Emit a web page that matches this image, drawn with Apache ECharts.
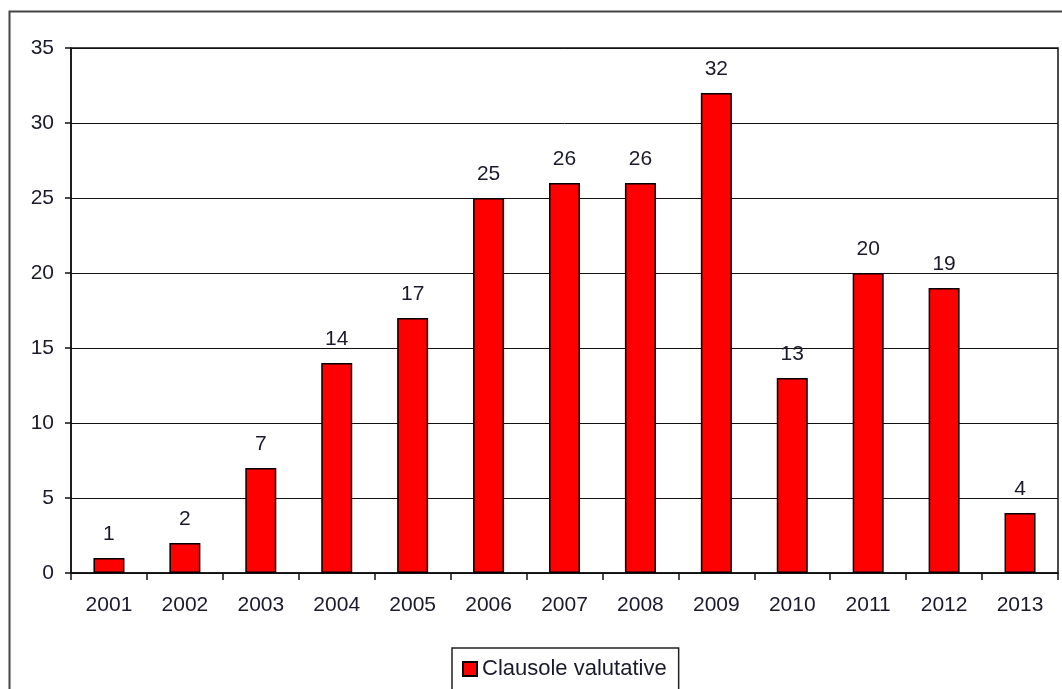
<!DOCTYPE html>
<html>
<head>
<meta charset="utf-8">
<script src="https://cdn.jsdelivr.net/npm/echarts@6/dist/echarts.min.js"></script>
<style>
  html, body { margin: 0; padding: 0; background: #fff; }
  #chart { width: 1062px; height: 689px; }
</style>
</head>
<body>
<div id="chart"></div>
<script>
// anni e numero di clausole
const years = ["2001", "2002", "2003", "2004", "2005", "2006", "2007", "2008", "2009", "2010", "2011", "2012", "2013"];
const clausole = [1, 2, 7, 14, 17, 25, 26, 26, 32, 13, 20, 19, 4];
const seriesName = "Clausole valutative";

const font = "Liberation Sans, Arial, sans-serif";
const myChart = echarts.init(document.getElementById("chart"));

const option = {
    backgroundColor: "#fff",
    animation: false,
    textStyle: { fontFamily: font },
    graphic: [
        {
            // cornice esterna
            type: "rect",
            shape: { x: 9.5, y: 11.5, width: 1100, height: 720 },
            style: { fill: "none", stroke: "#444", lineWidth: 2 },
            silent: true
        }
    ],
    grid: {
        left: 71, right: 4, top: 48, bottom: 116,
        show: true, borderColor: "#111", borderWidth: 1.5
    },
    legend: {
        data: [seriesName],
        left: 452, top: 648,
        padding: [10, 12, 30, 10],
        borderColor: "#222", borderWidth: 1.5,
        itemWidth: 14, itemHeight: 14,
        icon: "rect",
        textStyle: { fontSize: 22, color: "#1a1a2a", fontFamily: font }
    },
    xAxis: {
        type: "category",
        data: years,
        axisLine: { lineStyle: { color: "#111", width: 1.5 } },
        axisTick: { show: true, length: 7, lineStyle: { color: "#111", width: 1.5 } },
        axisLabel: { fontSize: 21, color: "#1a1a2a", margin: 22, fontFamily: font }
    },
    yAxis: {
        type: "value",
        min: 0, max: 35, interval: 5,
        axisLine: { show: true, lineStyle: { color: "#111", width: 1.5 } },
        axisTick: { show: true, inside: false, length: 6, lineStyle: { color: "#111", width: 1.5 } },
        axisLabel: { fontSize: 21, color: "#1a1a2a", margin: 17, fontFamily: font },
        splitLine: { lineStyle: { color: "#111", width: 1 } }
    },
    series: [
        {
            name: seriesName,
            type: "bar",
            data: clausole,
            barWidth: 31,
            itemStyle: { color: "#ff0000", borderColor: "#000", borderWidth: 1.5 },
            label: {
                show: true, position: "top", distance: 13,
                fontSize: 21, color: "#1a1a2a", fontFamily: font
            }
        }
    ]
};

myChart.setOption(option);
</script>
</body>
</html>
